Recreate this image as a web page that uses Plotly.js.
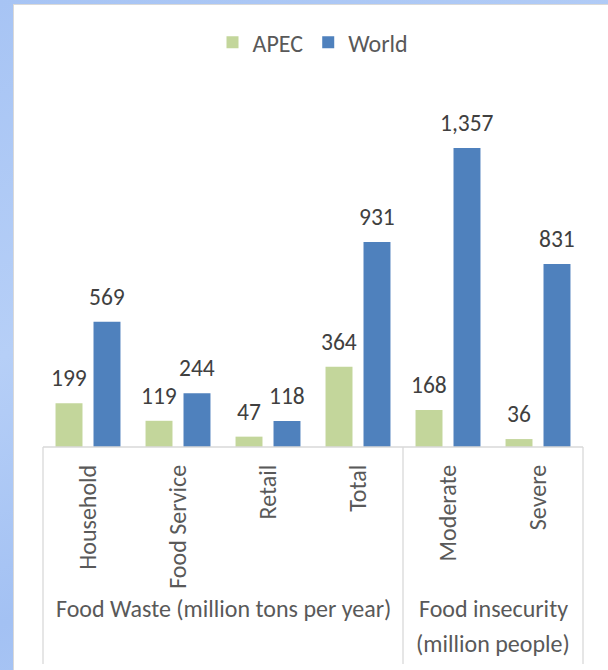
<!DOCTYPE html>
<html>
<head>
<meta charset="utf-8">
<script src="https://cdn.plot.ly/plotly-3.0.1.min.js"></script>
<style>
html,body{margin:0;padding:0;width:608px;height:670px;overflow:hidden;
background:linear-gradient(160deg,#a7c4f4 0%,#b6cff7 40%,#a3c1f3 70%,#b2ccf6 100%);}
#frame{position:absolute;left:13px;top:4px;width:595px;height:666px;background:#fff;
border-left:1px solid #d9d9d9;border-top:1px solid #d9d9d9;}
#chart{position:absolute;left:0;top:0;width:595px;height:666px;}
</style>
</head>
<body>
<div id="frame"><div id="chart"></div></div>
<script>
var categories = ["Household", "Food Service", "Retail", "Total", "Moderate", "Severe"];
var apecValues = [199, 119, 47, 364, 168, 36];
var worldValues = [569, 244, 118, 931, 1357, 831];
var seriesNames = ["APEC", "World"];
var groupLabels = [["Food Waste (million tons per year)"], ["Food insecurity", "(million people)"]];
var groupSpans = [[0, 3], [4, 5]];

var FONT = "Carlito, Calibri, Lato, sans-serif";
var colors = ["#c3d69b", "#4f81bd"];

var traces = [
  {type: "bar", name: seriesNames[0], x: categories, y: apecValues,
   marker: {color: colors[0]}, hoverinfo: "none"},
  {type: "bar", name: seriesNames[1], x: categories, y: worldValues,
   marker: {color: colors[1]}, hoverinfo: "none"}
];

var annotations = [];
var series = [apecValues, worldValues];
var shifts = [-19, 19];
series.forEach(function (vals, s) {
  vals.forEach(function (v, i) {
    annotations.push({
      x: categories[i], y: v, xref: "x", yref: "y",
      text: v.toLocaleString("en-US"), showarrow: false,
      xanchor: "center", yanchor: "bottom", xshift: shifts[s], yshift: 9,
      font: {family: FONT, size: 23.5, color: "#404040"}
    });
  });
});

var n = categories.length;
groupSpans.forEach(function (sp, g) {
  var mid = ((sp[0] + sp[1] + 1) / 2) / n;
  groupLabels[g].forEach(function (line, k) {
    annotations.push({
      x: mid, xref: "paper", y: -0.415, yref: "paper", yshift: -35 * k,
      yanchor: "top", xanchor: "center", showarrow: false,
      text: line, align: "center",
      font: {family: FONT, size: 24, color: "#595959"}
    });
  });
});

var shapes = [];
var lineStyle = {color: "#d9d9d9", width: 1.3};
shapes.push({type: "line", xref: "paper", yref: "paper", x0: 0, x1: 1, y0: 0, y1: 0, line: lineStyle});
var bounds = [0];
groupSpans.forEach(function (sp) { bounds.push((sp[1] + 1) / n); });
bounds.forEach(function (b) {
  shapes.push({type: "line", xref: "paper", yref: "paper", x0: b, x1: b, y0: 0, y1: -0.62, line: lineStyle});
});

var layout = {
  width: 595, height: 666,
  margin: {l: 29, r: 26, t: 92, b: 224},
  paper_bgcolor: "rgba(0,0,0,0)",
  plot_bgcolor: "rgba(0,0,0,0)",
  barmode: "group",
  bargap: 0.156,
  bargroupgap: 0.29,
  showlegend: true,
  legend: {orientation: "h", x: 0.5, xanchor: "center", y: 1.155, yanchor: "middle",
           font: {family: FONT, size: 24, color: "#595959"}, itemwidth: 30,
           traceorder: "normal"},
  xaxis: {type: "category", tickangle: -90, ticks: "", ticklabelstandoff: 12,
          showline: false, showgrid: false, zeroline: false,
          tickfont: {family: FONT, size: 24, color: "#595959"}, fixedrange: true},
  yaxis: {range: [0, 1589], visible: false, showgrid: false, zeroline: false, fixedrange: true},
  annotations: annotations,
  shapes: shapes
};

Plotly.newPlot("chart", traces, layout, {displayModeBar: false, staticPlot: true});
</script>
</body>
</html>
